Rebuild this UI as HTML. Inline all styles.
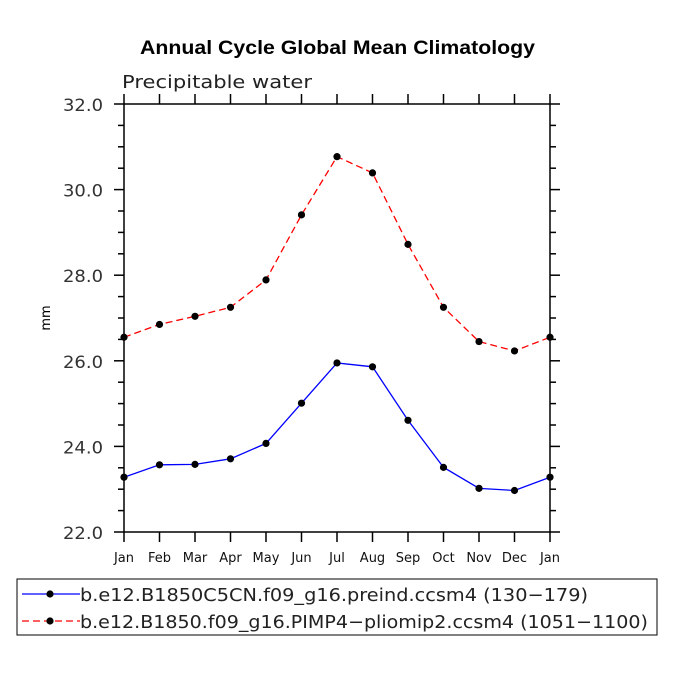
<!DOCTYPE html>
<html><head><meta charset="utf-8"><style>
body{margin:0;background:#fff}
text{font-family:"DejaVu Sans","Liberation Sans",sans-serif}
</style></head><body>
<svg id="c" width="675" height="675" viewBox="0 0 675 675">
<rect width="675" height="675" fill="#fff"/>
<text x="140" y="54" textLength="395" lengthAdjust="spacingAndGlyphs" font-weight="bold" font-size="19" style="font-family:'Liberation Sans',sans-serif">Annual Cycle Global Mean Climatology</text>
<text x="122" y="88" textLength="190" lengthAdjust="spacingAndGlyphs" font-size="18" fill="#222">Precipitable water</text>
<text x="50" y="318" font-size="13" text-anchor="middle" transform="rotate(-90 50 318)">mm</text>
<g id="axes"></g>
<g id="series"></g>
<rect x="17" y="579" width="640" height="56" fill="none" stroke="#000"/>
<g id="legend"></g>
</svg>
<script>
const months=["Jan","Feb","Mar","Apr","May","Jun","Jul","Aug","Sep","Oct","Nov","Dec","Jan"];
const preind=[23.28,23.57,23.58,23.71,24.07,25.01,25.95,25.86,24.61,23.51,23.02,22.97,23.28];
const plio=[26.55,26.85,27.04,27.25,27.89,29.41,30.77,30.39,28.72,27.25,26.45,26.23,26.55];
const yTicks=[22,24,26,28,30,32];
const yLabels=["22.0","24.0","26.0","28.0","30.0","32.0"];
const names=["b.e12.B1850C5CN.f09_g16.preind.ccsm4 (130\u2212179)","b.e12.B1850.f09_g16.PIMP4\u2212pliomip2.ccsm4 (1051\u22121100)"];
const nameW=[508,568];
const X0=124,X1=550,Y0=532,Y1=104,ymin=22,ymax=32;
const xs=i=>X0+(X1-X0)*i/(months.length-1);
const ys=v=>Y0-(v-ymin)/(ymax-ymin)*(Y0-Y1);
const NS="http://www.w3.org/2000/svg";
function mk(t,a,p){const e=document.createElementNS(NS,t);for(const k in a)e.setAttribute(k,a[k]);p.appendChild(e);return e;}
const ax=document.getElementById('axes');
const frame=mk('rect',{x:X0,y:Y1,width:X1-X0,height:Y0-Y1,fill:'none',stroke:'#000','stroke-width':1.5},ax);


months.forEach((m,i)=>{
 const x=xs(i);
 mk('line',{x1:x,x2:x,y1:Y0,y2:Y0+10,stroke:'#000','stroke-width':1.5},ax);
 mk('line',{x1:x,x2:x,y1:Y1,y2:Y1-10,stroke:'#000','stroke-width':1.5},ax);
 const t=mk('text',{x:x,y:Y0+30,'text-anchor':'middle','font-size':13,fill:'#111'},ax);
 t.textContent=m;
 
 
});
for(let v=ymin;v<=ymax+1e-9;v+=0.5){
 const y=ys(v);const major=Math.abs(v/2-Math.round(v/2))<1e-6;const L=major?10:6;
 mk('line',{x1:X0-L,x2:X0,y1:y,y2:y,stroke:'#000','stroke-width':1.5},ax);
 mk('line',{x1:X1,x2:X1+L,y1:y,y2:y,stroke:'#000','stroke-width':1.5},ax);
}
yTicks.forEach((v,i)=>{
 const t=mk('text',{x:X0-21,y:ys(v)+7,'text-anchor':'end','font-size':17,fill:'#333',textLength:40,lengthAdjust:'spacingAndGlyphs'},ax);
 t.textContent=yLabels[i];
 
 
});
const sg=document.getElementById('series');
function series(vals,color,dash,name){
 const g=mk('g',{},sg);
 
 
 mk('polyline',{points:vals.map((v,i)=>xs(i)+','+ys(v)).join(' '),fill:'none',stroke:color,'stroke-width':1.3,'stroke-dasharray':dash},g);
 vals.forEach((v,i)=>{const c=mk('circle',{cx:xs(i),cy:ys(v),r:3.6,fill:'#000'},g);
  
  });
}
series(preind,'#0000ff','none','preind-series');
series(plio,'#ff0000','7,4','pliomip2-series');
const lg=document.getElementById('legend');
[["#0000ff","none"],["#ff0000","7,4"]].forEach((s,i)=>{
 const y=594+i*27;
 const g=mk('g',{},lg);
 
 
 mk('line',{x1:22,x2:80,y1:y,y2:y,stroke:s[0],'stroke-width':1.3,'stroke-dasharray':s[1]},g);
 mk('circle',{cx:50,cy:y,r:3.6,fill:'#000'},g);
 const t=mk('text',{x:80,y:y+7,'font-size':18,fill:'#222',textLength:nameW[i],lengthAdjust:'spacingAndGlyphs'},g);
 t.textContent=names[i];
});
</script>
</body></html>
